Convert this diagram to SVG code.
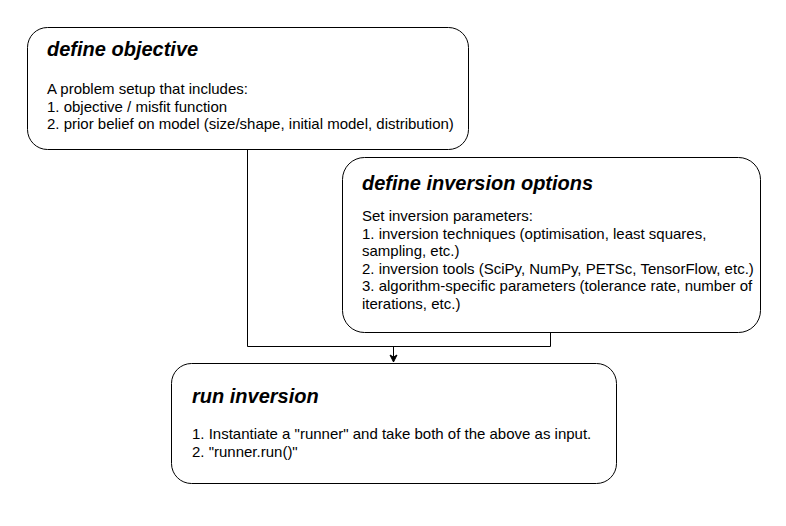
<svg xmlns="http://www.w3.org/2000/svg" width="786" height="526" viewBox="0 0 786 526">
<defs>
<style>
.box{fill:#fff;stroke:#000;stroke-width:1}
.title{font-family:"Liberation Sans",Arial,sans-serif;font-size:20px;font-weight:bold;font-style:italic;fill:#000}
.body{font-family:"Liberation Sans",Arial,sans-serif;font-size:15px;fill:#000}
.conn{fill:none;stroke:#000;stroke-width:1}
</style>
<marker id="arr" markerWidth="10" markerHeight="10" refX="8" refY="5" orient="auto" markerUnits="userSpaceOnUse">
<path d="M1,1.5 L8,5 L1,8.5 L3,5 Z" fill="#000" stroke="#000" stroke-width="1"/>
</marker>
</defs>
<rect width="786" height="526" fill="#fff"/>
<g id="connectors">
<path class="conn" d="M247.5,149 V346.5 H550.5 V332"/>
<path class="conn" d="M393.5,346.5 V362" marker-end="url(#arr)"/>
</g>
<g id="define-objective">
<rect class="box" x="27.5" y="27.5" width="441" height="122" rx="20" ry="20"/>
<text class="title" x="47" y="56">define objective</text>
<text class="body" x="47" y="94">A problem setup that includes:</text>
<text class="body" x="47" y="111.5">1. objective / misfit function</text>
<text class="body" x="47" y="129">2. prior belief on model (size/shape, initial model, distribution)</text>
</g>
<g id="define-inversion-options">
<rect class="box" x="342.5" y="157.5" width="418" height="175" rx="22" ry="22"/>
<text class="title" x="362" y="190">define inversion options</text>
<text class="body" x="362" y="221">Set inversion parameters:</text>
<text class="body" x="362" y="238.5">1. inversion techniques (optimisation, least squares,</text>
<text class="body" x="362" y="256">sampling, etc.)</text>
<text class="body" x="362" y="273.5">2. inversion tools (SciPy, NumPy, PETSc, TensorFlow, etc.)</text>
<text class="body" x="362" y="291">3. algorithm-specific parameters (tolerance rate, number of</text>
<text class="body" x="362" y="308.5">iterations, etc.)</text>
</g>
<g id="run-inversion">
<rect class="box" x="171.5" y="363.5" width="445" height="120" rx="20" ry="20"/>
<text class="title" x="192" y="403">run inversion</text>
<text class="body" x="192" y="439">1. Instantiate a "runner" and take both of the above as input.</text>
<text class="body" x="192" y="456.5">2. "runner.run()"</text>
</g>
</svg>
